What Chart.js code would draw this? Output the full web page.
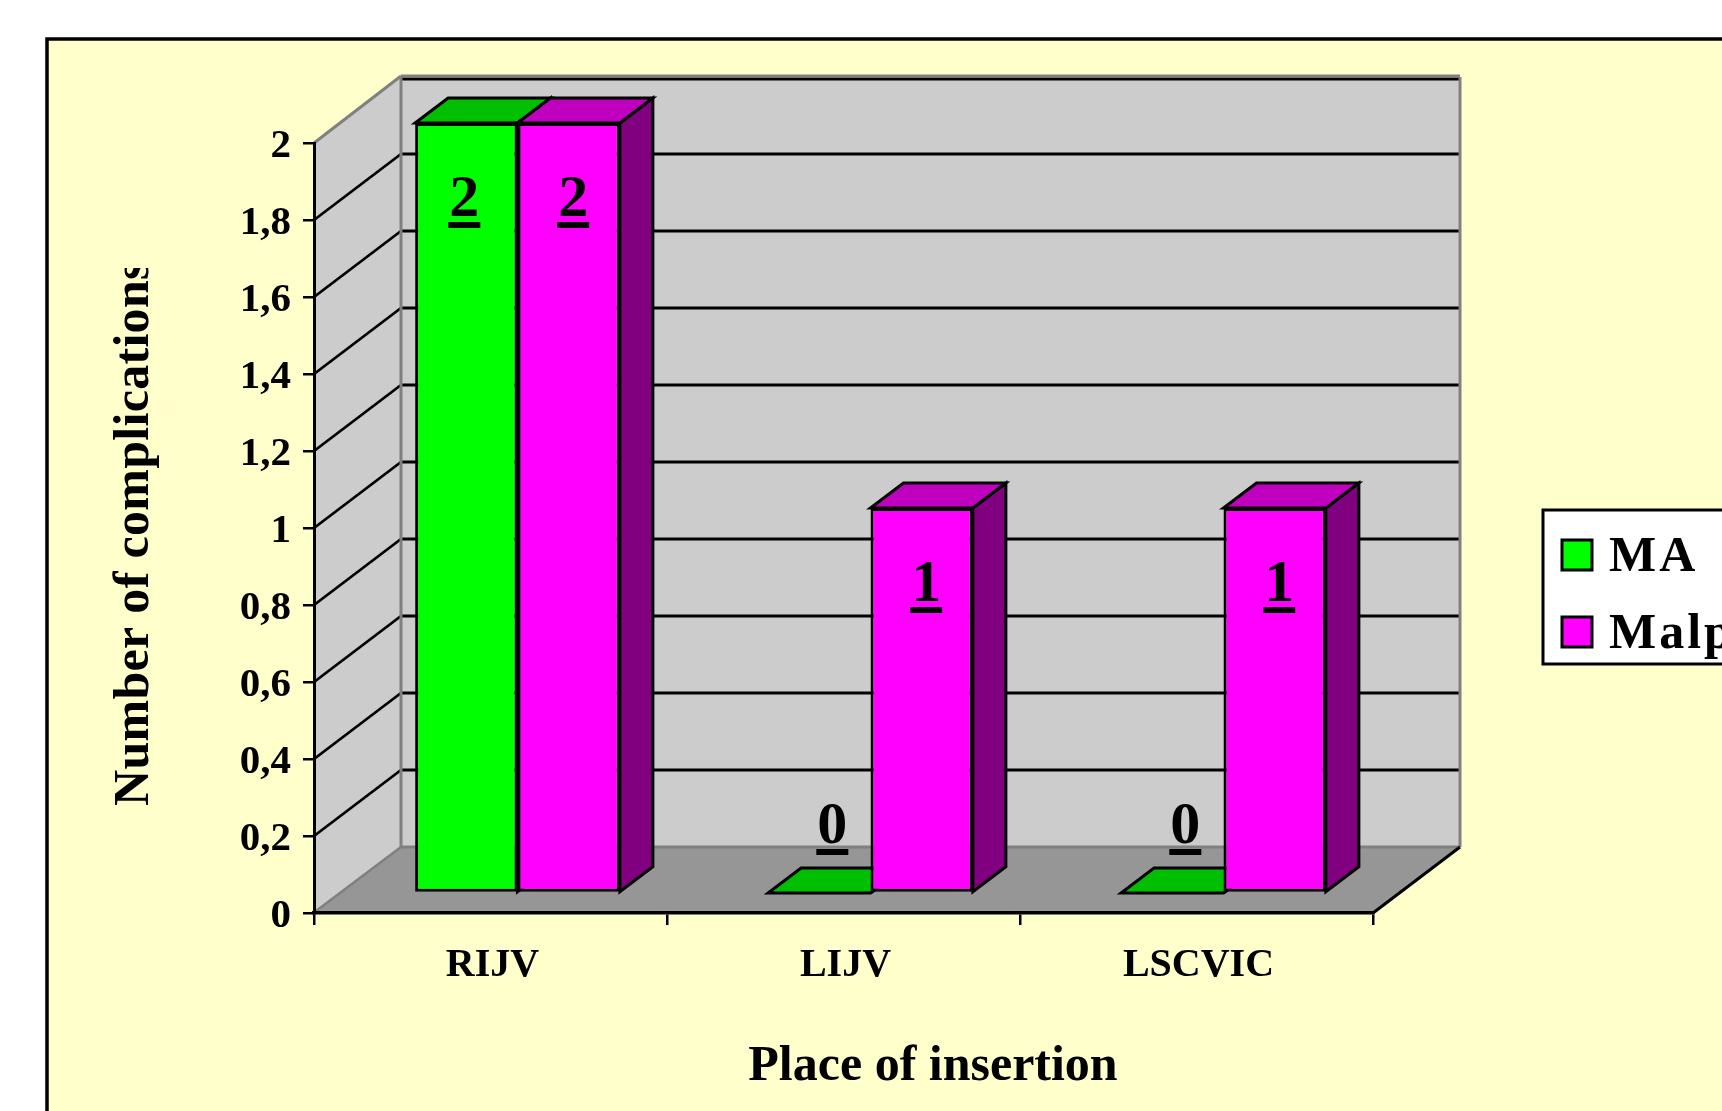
<!DOCTYPE html>
<html>
<head>
<meta charset="utf-8">
<title>Complications by place of insertion</title>
<style>
  html, body { margin: 0; padding: 0; background: #fff; overflow: hidden; }
  canvas { display: block; }
</style>
<script src="https://cdn.jsdelivr.net/npm/chart.js@4"></script>
</head>
<body>
<canvas id="complicationsChart" width="1722" height="1111"></canvas>
<script>
const categories = ['RIJV', 'LIJV', 'LSCVIC'];
const seriesNames = ['MA', 'Malp'];
const maValues = [2, 0, 0];
const malpValues = [2, 1, 1];
const yTickLabels = ['0', '0,2', '0,4', '0,6', '0,8', '1', '1,2', '1,4', '1,6', '1,8', '2'];
const xAxisTitle = 'Place of insertion';
const yAxisTitle = 'Number of complications';

const SERIF = '"Liberation Serif", "Times New Roman", serif';

// depth of the box and of the bars, in px
const WALL_DX = 87, WALL_DY = 66;
const BAR_SHIFT_X = 27, BAR_SHIFT_Y = 20;
const BAR_DX = 33, BAR_DY = 25;

const GREY_EDGE = '#808080';

function poly(ctx, pts, fill, stroke, lw) {
  ctx.beginPath();
  pts.forEach((p, i) => i ? ctx.lineTo(p[0], p[1]) : ctx.moveTo(p[0], p[1]));
  ctx.closePath();
  if (fill) { ctx.fillStyle = fill; ctx.fill(); }
  if (stroke) { ctx.strokeStyle = stroke; ctx.lineWidth = lw; ctx.lineJoin = 'miter'; ctx.stroke(); }
}

function seg(ctx, x1, y1, x2, y2, color, lw) {
  ctx.beginPath();
  ctx.moveTo(x1, y1);
  ctx.lineTo(x2, y2);
  ctx.strokeStyle = color;
  ctx.lineWidth = lw;
  ctx.stroke();
}

// page and yellow panel, then the walls and floor behind the bars
const boxPlugin = {
  id: 'box3d',
  beforeDraw(chart) {
    const { ctx, width, height, chartArea: a } = chart;
    const yScale = chart.scales.y;
    ctx.save();
    ctx.fillStyle = '#fff';
    ctx.fillRect(0, 0, width, height);
    ctx.fillStyle = '#FFFFCC';
    ctx.fillRect(46, 38, width, height);
    ctx.strokeStyle = '#000';
    ctx.lineWidth = 3.5;
    ctx.strokeRect(47, 39, width + 20, height + 20);

    const l = a.left, r = a.right, t = a.top, b = a.bottom;
    // left wall, back wall, floor
    poly(ctx, [[l, t], [l + WALL_DX, t - WALL_DY], [l + WALL_DX, b - WALL_DY], [l, b]], '#CCCCCC');
    poly(ctx, [[l + WALL_DX, t - WALL_DY], [r + WALL_DX, t - WALL_DY], [r + WALL_DX, b - WALL_DY], [l + WALL_DX, b - WALL_DY]], '#CCCCCC');
    poly(ctx, [[l, b], [r, b], [r + WALL_DX, b - WALL_DY], [l + WALL_DX, b - WALL_DY]], '#969696');

    // gridlines run along both walls
    yScale.ticks.forEach(tick => {
      const y = yScale.getPixelForValue(tick.value);
      if (tick.value === 0) return;
      if (tick.value < 2) seg(ctx, l, y, l + WALL_DX, y - WALL_DY, '#000', 2.8);
      const backY = y - WALL_DY + (tick.value === 2 ? 2 : 0);
      seg(ctx, l + WALL_DX, backY, r + WALL_DX, backY, '#000', 3);
    });

    // grey box edges
    seg(ctx, l, t, l + WALL_DX, t - WALL_DY - 1, GREY_EDGE, 3);
    seg(ctx, l + WALL_DX, t - WALL_DY - 1, r + WALL_DX, t - WALL_DY - 1, GREY_EDGE, 3);
    seg(ctx, l + WALL_DX, t - WALL_DY, l + WALL_DX, b - WALL_DY, GREY_EDGE, 3);
    seg(ctx, r + WALL_DX, t - WALL_DY, r + WALL_DX, b - WALL_DY, GREY_EDGE, 3);
    seg(ctx, l + WALL_DX, b - WALL_DY, r + WALL_DX, b - WALL_DY, GREY_EDGE, 3);
    seg(ctx, l + 2, b - 2, l + WALL_DX, b - WALL_DY, GREY_EDGE, 2.5);
    seg(ctx, r, b, r + WALL_DX, b - WALL_DY, '#000', 3);
    ctx.restore();
  }
};

const TOP_COLORS = ['#00BF00', '#BF00BF'];
const SIDE_COLORS = ['#008000', '#800080'];

// bar tops and sides go in first, the library then paints the front faces over them
const barDepthPlugin = {
  id: 'barDepth',
  beforeDatasetsDraw(chart) {
    const ctx = chart.ctx;
    chart.data.datasets.forEach((ds, di) => {
      chart.getDatasetMeta(di).data.forEach(el => {
        const x0 = el.x - el.width / 2 + BAR_SHIFT_X;
        const x1 = el.x + el.width / 2 + BAR_SHIFT_X;
        const yt = el.y - BAR_SHIFT_Y;
        const yb = el.base - BAR_SHIFT_Y;
        ctx.save();
        poly(ctx, [[x1, yt], [x1 + BAR_DX, yt - BAR_DY], [x1 + BAR_DX, yb - BAR_DY], [x1, yb]], SIDE_COLORS[di], '#000', 3);
        poly(ctx, [[x0, yt], [x0 + BAR_DX, yt - BAR_DY], [x1 + BAR_DX, yt - BAR_DY], [x1, yt]], TOP_COLORS[di], '#000', 3);
        ctx.restore();
      });
    });
  },
  beforeDatasetDraw(chart) {
    chart.ctx.save();
    chart.ctx.translate(BAR_SHIFT_X, -BAR_SHIFT_Y);
  },
  afterDatasetDraw(chart) {
    chart.ctx.restore();
  }
};

// underlined value labels, axis titles and the legend box
const annotationPlugin = {
  id: 'annotations',
  afterDraw(chart) {
    const ctx = chart.ctx;
    ctx.save();
    ctx.fillStyle = '#000';

    ctx.font = 'bold 60px ' + SERIF;
    ctx.textAlign = 'center';
    ctx.textBaseline = 'alphabetic';
    chart.data.datasets.forEach((ds, di) => {
      chart.getDatasetMeta(di).data.forEach((el, i) => {
        const v = ds.data[i];
        const cx = el.x + BAR_SHIFT_X + (v === 0 ? 13 : di === 0 ? -2 : 4.5);
        const base = v === 0 ? el.y - BAR_SHIFT_Y - 50 : el.y - BAR_SHIFT_Y + 93;
        ctx.fillText(String(v), cx, base);
        ctx.fillRect(cx - 16, base + 6, 32, 6);
      });
    });

    ctx.font = 'bold 50px ' + SERIF;
    ctx.textAlign = 'center';
    ctx.fillText(xAxisTitle, 933, 1080);

    // the rotated title runs out of room at its top end
    ctx.save();
    ctx.beginPath();
    ctx.rect(60, 268, 140, 600);
    ctx.clip();
    ctx.translate(148, 806);
    ctx.rotate(-Math.PI / 2);
    ctx.textAlign = 'left';
    ctx.letterSpacing = '0.3px';
    ctx.fillText(yAxisTitle, 0, 0);
    ctx.restore();

    // legend
    ctx.fillStyle = '#fff';
    ctx.fillRect(1543, 510, 200, 154);
    ctx.strokeStyle = '#000';
    ctx.lineWidth = 3;
    ctx.strokeRect(1543, 510, 200, 154);
    ctx.textAlign = 'left';
    ctx.letterSpacing = '3px';
    chart.data.datasets.forEach((ds, di) => {
      const y = 540 + di * 77;
      ctx.fillStyle = ds.backgroundColor;
      ctx.fillRect(1562, y, 30, 30);
      ctx.strokeRect(1562, y, 30, 30);
      ctx.fillStyle = '#000';
      ctx.fillText(ds.label, 1609, y + 31);
    });
    ctx.restore();
  }
};

const barBorder = { borderColor: '#000', borderWidth: 3, borderSkipped: false, clip: false };

new Chart(document.getElementById('complicationsChart'), {
  type: 'bar',
  data: {
    labels: categories,
    datasets: [
      { label: seriesNames[0], data: maValues, backgroundColor: '#00FF00', ...barBorder },
      { label: seriesNames[1], data: malpValues, backgroundColor: '#FF00FF', ...barBorder }
    ]
  },
  options: {
    responsive: false,
    animation: false,
    events: [],
    layout: { padding: { left: 0, right: 349, top: 143, bottom: 0 } },
    datasets: { bar: { categoryPercentage: 0.58, barPercentage: 1 } },
    plugins: {
      legend: { display: false },
      tooltip: { enabled: false }
    },
    scales: {
      x: {
        afterFit: s => { s.height = 198; },
        grid: { drawOnChartArea: false, drawTicks: true, tickLength: 12, color: '#000', lineWidth: 2.5 },
        border: { color: '#000', width: 3.5 },
        ticks: { color: '#000', padding: 17, labelOffset: 2, maxRotation: 0, font: { family: SERIF, size: 40, weight: 'bold' } }
      },
      y: {
        min: 0,
        max: 2,
        afterFit: s => { s.width = 314; },
        grid: { drawOnChartArea: false, drawTicks: true, tickLength: 11, color: '#000', lineWidth: 2.5 },
        border: { color: '#000', width: 3 },
        ticks: {
          stepSize: 0.2,
          autoSkip: false,
          color: '#000',
          padding: 12,
          labelOffset: 3,
          font: { family: SERIF, size: 41, weight: 'bold' },
          callback: (value, index) => yTickLabels[index]
        }
      }
    }
  },
  plugins: [boxPlugin, barDepthPlugin, annotationPlugin]
});
</script>
</body>
</html>
